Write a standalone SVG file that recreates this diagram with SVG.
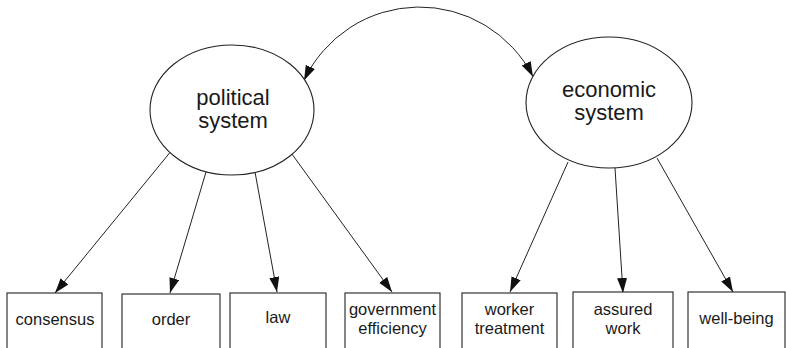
<svg xmlns="http://www.w3.org/2000/svg" width="786" height="348" viewBox="0 0 786 348">
<style>
.n{fill:#fff;stroke:#222;stroke-width:1.1}
.lat{font-family:"Liberation Sans",Arial,sans-serif;font-size:22px;fill:#1a1a1a;text-anchor:middle}
.obs{font-family:"Liberation Sans",Arial,sans-serif;font-size:16.5px;fill:#1a1a1a;text-anchor:middle}
.c{fill:none;stroke:#222;stroke-width:1}
</style>
<defs>
<marker id="ah" markerUnits="userSpaceOnUse" markerWidth="16" markerHeight="11" refX="15" refY="5" orient="auto-start-reverse">
<path d="M0,0 L15,5 L0,10 z" fill="#111"/>
</marker>
</defs>
<rect width="786" height="348" fill="#fff"/>
<g id="connectors">
<path class="c" d="M304,80.5 A127.4,127.4 0 0,1 533,76.7" marker-start="url(#ah)" marker-end="url(#ah)"/>
<line class="c" x1="172" y1="150" x2="55" y2="293" marker-end="url(#ah)"/>
<line class="c" x1="206" y1="172" x2="170" y2="293" marker-end="url(#ah)"/>
<line class="c" x1="255" y1="172" x2="277" y2="292" marker-end="url(#ah)"/>
<line class="c" x1="289" y1="150" x2="392" y2="292" marker-end="url(#ah)"/>
<line class="c" x1="568" y1="162" x2="510" y2="292" marker-end="url(#ah)"/>
<line class="c" x1="615" y1="168" x2="623" y2="293" marker-end="url(#ah)"/>
<line class="c" x1="657" y1="158" x2="733" y2="292" marker-end="url(#ah)"/>
</g>
<g id="political">
<ellipse class="n" cx="232" cy="110" rx="82" ry="65"/>
<text class="lat" x="233" y="105">political</text>
<text class="lat" x="233" y="128">system</text>
</g>
<g id="economic">
<ellipse class="n" cx="609" cy="102.5" rx="83" ry="65.5"/>
<text class="lat" x="609" y="97">economic</text>
<text class="lat" x="609" y="120">system</text>
</g>
<g id="consensus">
<rect class="n" x="7" y="293" width="95" height="60"/>
<text class="obs" x="55" y="325">consensus</text>
</g>
<g id="order">
<rect class="n" x="122" y="294" width="98" height="60"/>
<text class="obs" x="171" y="325">order</text>
</g>
<g id="law">
<rect class="n" x="230" y="293" width="96" height="60"/>
<text class="obs" x="278" y="323">law</text>
</g>
<g id="government-efficiency">
<rect class="n" x="345" y="293" width="95" height="60"/>
<text class="obs" x="392.5" y="315">government</text>
<text class="obs" x="392.5" y="333.5">efficiency</text>
</g>
<g id="worker-treatment">
<rect class="n" x="462" y="293" width="95" height="60"/>
<text class="obs" x="509.5" y="315">worker</text>
<text class="obs" x="509.5" y="333.5">treatment</text>
</g>
<g id="assured-work">
<rect class="n" x="573" y="292" width="100" height="60"/>
<text class="obs" x="623" y="315">assured</text>
<text class="obs" x="623" y="333.5">work</text>
</g>
<g id="well-being">
<rect class="n" x="688" y="292" width="97" height="60"/>
<text class="obs" x="736.5" y="324">well-being</text>
</g>
</svg>
